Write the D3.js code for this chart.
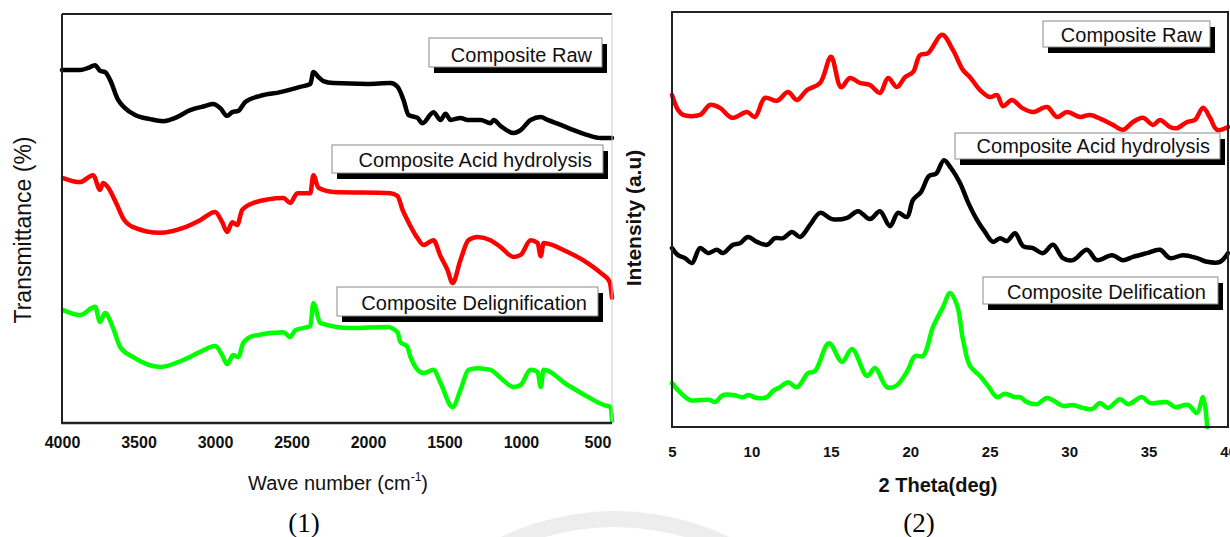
<!DOCTYPE html>
<html>
<head>
<meta charset="utf-8">
<script src="https://cdn.jsdelivr.net/npm/d3@7"></script>
<style>
  body { margin: 0; background: #fff; }
  svg { display: block; }
</style>
</head>
<body>
<svg id="chart"></svg>
<script>
// FTIR spectra, [wave number cm-1, transmittance a.u.]
let ftirRaw = [[4000,86.3],[3882,86.3],[3830,86.8],[3784,87.5],[3751,86.1],[3719,85.8],[3686,83.9],[3633,79.0],[3588,77.0],[3522,75.3],[3424,74.3],[3339,73.8],[3260,74.6],[3162,76.5],[3064,77.5],[3012,78.0],[2966,77.0],[2920,75.1],[2887,76.0],[2848,76.3],[2802,78.5],[2704,80.0],[2573,80.9],[2442,82.2],[2377,82.9],[2357,85.8],[2324,84.6],[2292,83.6],[2226,83.1],[2004,82.9],[1853,83.1],[1807,82.2],[1768,79.0],[1735,75.3],[1676,74.6],[1644,73.3],[1572,76.0],[1526,74.1],[1493,75.6],[1460,74.1],[1395,74.6],[1349,74.1],[1264,74.1],[1199,73.3],[1179,74.1],[1133,72.6],[1048,70.9],[1002,71.6],[937,74.1],[871,74.8],[826,74.1],[740,72.9],[655,71.6],[564,70.4],[479,69.7],[405,69.7]];
let ftirAcid = [[3993,59.9],[3882,58.9],[3797,60.6],[3751,57.0],[3732,58.7],[3705,57.9],[3640,53.3],[3601,50.1],[3535,47.9],[3359,46.5],[3208,47.7],[3097,49.6],[2999,51.6],[2953,49.1],[2920,46.7],[2887,49.1],[2855,48.4],[2822,52.1],[2750,53.8],[2553,55.0],[2508,53.8],[2462,56.2],[2377,56.2],[2357,60.6],[2324,57.5],[2226,56.5],[1853,56.2],[1807,55.5],[1774,52.1],[1742,49.6],[1676,45.2],[1637,43.5],[1572,44.7],[1526,40.8],[1480,37.4],[1447,34.2],[1395,39.9],[1343,44.7],[1284,45.5],[1199,44.7],[1133,43.0],[1048,40.6],[1002,41.1],[937,44.7],[891,44.0],[871,40.8],[852,44.0],[695,41.8],[564,39.1],[479,36.7],[420,34.5],[405,30.6]];
let ftirDelig = [[3993,27.6],[3882,26.4],[3784,28.4],[3751,24.7],[3719,26.9],[3666,23.2],[3620,18.6],[3535,16.1],[3359,13.7],[3208,15.4],[3097,17.4],[2999,18.8],[2953,16.6],[2920,14.4],[2881,16.6],[2848,16.1],[2815,19.6],[2750,21.3],[2553,22.2],[2508,21.0],[2475,22.7],[2377,23.7],[2357,29.3],[2311,24.4],[2115,23.2],[1873,23.5],[1807,22.2],[1788,19.8],[1742,18.6],[1722,16.1],[1637,12.2],[1572,13.0],[1526,9.8],[1447,3.9],[1395,8.1],[1343,13.0],[1284,13.4],[1199,13.0],[1133,11.0],[1048,8.8],[1002,9.3],[937,13.0],[891,12.5],[871,8.8],[852,13.0],[695,9.3],[564,6.4],[459,4.4],[413,3.9],[405,0.5]];

// XRD patterns, [2 theta deg, intensity a.u.]
let xrdRaw = [[5.00,80.0],[5.38,76.4],[5.69,75.2],[6.76,75.2],[7.39,77.6],[8.02,76.9],[8.78,74.5],[9.72,75.9],[10.22,74.7],[10.85,79.3],[11.61,78.6],[12.30,80.7],[12.87,78.8],[13.50,81.2],[14.32,82.9],[15.01,89.2],[15.64,81.9],[16.20,84.1],[16.83,82.9],[17.46,82.4],[18.09,80.5],[18.60,84.1],[19.16,81.9],[19.67,84.3],[20.17,85.5],[20.61,89.6],[21.12,90.1],[22.00,94.5],[22.69,90.8],[23.32,86.0],[23.76,84.3],[24.39,81.2],[25.02,79.5],[25.46,80.0],[25.84,77.3],[26.40,78.8],[27.03,76.9],[27.72,75.9],[28.61,77.1],[29.24,74.7],[29.87,75.9],[30.68,74.7],[31.31,75.2],[32.13,74.0],[32.76,72.8],[33.39,71.6],[34.02,73.5],[34.65,74.5],[35.28,72.8],[35.72,74.0],[36.35,72.3],[36.79,72.0],[37.42,73.5],[37.92,74.0],[38.43,76.9],[38.87,74.5],[39.31,71.6],[40.00,72.3]];
let xrdAcid = [[5.00,43.1],[5.38,41.4],[5.82,40.7],[6.26,39.5],[6.76,43.1],[7.27,41.9],[7.83,42.7],[8.21,41.9],[8.84,43.9],[9.28,44.3],[9.78,45.8],[10.35,44.6],[10.98,43.9],[11.48,45.5],[11.99,45.5],[12.55,47.0],[13.06,45.8],[13.69,48.7],[14.32,51.6],[15.07,50.1],[16.02,50.4],[16.71,52.0],[17.46,50.1],[18.09,52.0],[18.72,48.4],[19.23,51.6],[19.79,50.6],[20.17,54.7],[20.67,56.6],[21.18,60.5],[21.62,61.0],[22.12,64.3],[22.56,62.4],[23.13,58.8],[23.63,54.2],[24.20,49.9],[24.70,47.0],[25.21,44.6],[25.65,45.5],[26.09,44.8],[26.59,46.7],[27.10,43.6],[27.72,43.1],[28.35,41.9],[28.98,43.9],[29.61,40.7],[30.24,40.2],[31.12,42.7],[31.75,40.2],[32.70,41.4],[33.39,40.2],[34.02,41.0],[34.90,41.9],[35.72,42.7],[36.35,40.7],[37.17,41.4],[38.05,40.7],[38.69,39.8],[39.50,39.8],[40.00,41.9]];
let xrdDelif = [[5.00,10.6],[5.50,8.4],[6.13,6.5],[6.76,6.5],[7.39,6.5],[7.71,6.0],[8.21,7.7],[8.84,7.7],[9.47,7.2],[9.78,7.7],[10.35,7.0],[10.98,7.2],[11.36,8.7],[11.80,9.6],[12.30,10.8],[12.87,9.6],[13.56,13.0],[14.00,13.5],[14.88,20.2],[15.70,15.7],[16.33,18.8],[17.28,12.3],[17.78,14.2],[18.53,9.6],[19.10,9.9],[19.79,13.3],[20.30,17.1],[20.80,17.1],[21.43,24.1],[22.06,28.9],[22.50,32.3],[22.94,29.4],[23.32,21.0],[23.76,14.7],[24.39,12.3],[24.89,9.9],[25.46,7.2],[25.96,8.0],[26.59,7.2],[26.91,7.2],[27.35,6.0],[27.98,5.5],[28.61,7.0],[29.61,5.1],[30.24,5.3],[30.87,4.6],[31.44,4.3],[31.94,5.8],[32.45,4.6],[33.20,6.7],[33.71,5.5],[34.59,7.2],[35.09,5.8],[36.16,6.0],[36.66,4.8],[37.48,5.3],[38.05,3.4],[38.43,7.2],[38.69,0.0]];

let ftirTicks = [4000, 3500, 3000, 2500, 2000, 1500, 1000, 500];
let xrdTicks = [5, 10, 15, 20, 25, 30, 35, 40];

let ftirLabels = ["Composite Raw", "Composite Acid hydrolysis", "Composite Delignification"];
let xrdLabels = ["Composite Raw", "Composite Acid hydrolysis", "Composite Delification"];

let sans = "'Liberation Sans', Arial, sans-serif";
let serif = "'Liberation Serif', 'Times New Roman', serif";

let svg = d3.select("#chart")
    .attr("width", 1230)
    .attr("height", 537)

// faint watermark ring at the bottom
svg.append("path")
    .attr("transform", "translate(615,775)")
    .attr("d", d3.arc()({innerRadius: 248, outerRadius: 264, startAngle: -0.62, endAngle: 0.62}))
    .attr("fill", "#ededed")

// ---------- panel 1: FTIR ----------
let ftirX = d3.scaleLinear()
    .domain([4000, 405])
    .range([62, 612])

let ftirY = d3.scaleLinear()
    .domain([0, 100])
    .range([423, 14])

let ftirLine = d3.line()
    .x(function (d) { return ftirX(d[0]) })
    .y(function (d) { return ftirY(d[1]) })
    .curve(d3.curveMonotoneX)

let ftirSeries = [
    {data: ftirRaw, color: "#000000"},
    {data: ftirAcid, color: "#ff0000"},
    {data: ftirDelig, color: "#00ff00"}
]

svg.append("g")
    .selectAll("path")
    .data(ftirSeries)
    .enter()
    .append("path")
    .attr("d", function (d) { return ftirLine(d.data) })
    .attr("fill", "none")
    .attr("stroke", function (d) { return d.color })
    .attr("stroke-width", 4.5)
    .attr("stroke-linejoin", "round")
    .attr("stroke-linecap", "round")

// frame: dark left/top/bottom, light right side
svg.append("line").attr("x1", 62).attr("x2", 612).attr("y1", 14).attr("y2", 14)
    .attr("stroke", "#222").attr("stroke-width", 2)
svg.append("line").attr("x1", 62).attr("x2", 62).attr("y1", 14).attr("y2", 423)
    .attr("stroke", "#222").attr("stroke-width", 2)
svg.append("line").attr("x1", 612).attr("x2", 612).attr("y1", 14).attr("y2", 423)
    .attr("stroke", "#ccc").attr("stroke-width", 1)
svg.append("line").attr("x1", 61).attr("x2", 612).attr("y1", 423).attr("y2", 423)
    .attr("stroke", "#222").attr("stroke-width", 2.5)

svg.append("g")
    .attr("transform", "translate(0,423)")
    .call(d3.axisBottom(ftirX).tickValues(ftirTicks).tickSize(0).tickPadding(14).tickFormat(d3.format("d")))
    .call(function (g) { g.select(".domain").remove() })
    .attr("font-family", sans)
    .attr("font-size", 16)
    .attr("font-weight", "bold")
    .selectAll("text").attr("fill", "#111")

svg.append("text")
    .attr("x", 338)
    .attr("y", 490)
    .attr("text-anchor", "middle")
    .attr("font-family", sans)
    .attr("font-size", 20)
    .attr("fill", "#111")
    .call(function (t) {
        t.append("tspan").text("Wave number (cm")
        t.append("tspan").attr("font-size", 12).attr("dy", -9).text("-1")
        t.append("tspan").attr("dy", 9).text(")")
    })

svg.append("text")
    .attr("transform", "translate(31,230)rotate(-90)")
    .attr("text-anchor", "middle")
    .attr("font-family", sans)
    .attr("font-size", 23)
    .attr("fill", "#111")
    .text("Transmittance (%)")

// ---------- panel 2: XRD ----------
let xrdX = d3.scaleLinear()
    .domain([5, 40])
    .range([672, 1228])

let xrdY = d3.scaleLinear()
    .domain([0, 100])
    .range([427, 12])

let xrdLine = d3.line()
    .x(function (d) { return xrdX(d[0]) })
    .y(function (d) { return xrdY(d[1]) })
    .curve(d3.curveCatmullRom.alpha(0.5))

let xrdSeries = [
    {data: xrdRaw, color: "#ff0000"},
    {data: xrdAcid, color: "#000000"},
    {data: xrdDelif, color: "#00ff00"}
]

svg.append("g")
    .selectAll("path")
    .data(xrdSeries)
    .enter()
    .append("path")
    .attr("d", function (d) { return xrdLine(d.data) })
    .attr("fill", "none")
    .attr("stroke", function (d) { return d.color })
    .attr("stroke-width", 4.5)
    .attr("stroke-linejoin", "round")
    .attr("stroke-linecap", "round")

svg.append("rect")
    .attr("x", 672).attr("y", 12)
    .attr("width", 556).attr("height", 415)
    .attr("fill", "none")
    .attr("stroke", "#222")
    .attr("stroke-width", 2)

svg.append("g")
    .attr("transform", "translate(0,427)")
    .call(d3.axisBottom(xrdX).tickValues(xrdTicks).tickSize(0).tickPadding(19).tickFormat(d3.format("d")))
    .call(function (g) { g.select(".domain").remove() })
    .attr("font-family", sans)
    .attr("font-size", 15)
    .attr("font-weight", "bold")
    .selectAll("text").attr("fill", "#111")

svg.append("text")
    .attr("x", 938)
    .attr("y", 492)
    .attr("text-anchor", "middle")
    .attr("font-family", sans)
    .attr("font-size", 20)
    .attr("font-weight", "bold")
    .attr("fill", "#111")
    .text("2 Theta(deg)")

svg.append("text")
    .attr("transform", "translate(641,218)rotate(-90)")
    .attr("text-anchor", "middle")
    .attr("font-family", sans)
    .attr("font-size", 21)
    .attr("font-weight", "bold")
    .attr("fill", "#111")
    .text("Intensity (a.u)")

// ---------- legend boxes with black drop shadow ----------
let boxes = [
    {label: ftirLabels[0], x: 429, y: 38, w: 173, h: 29, tx: 592, ty: 62},
    {label: ftirLabels[1], x: 332, y: 145, w: 271, h: 28, tx: 592, ty: 167},
    {label: ftirLabels[2], x: 337, y: 287, w: 261, h: 29, tx: 587, ty: 310},
    {label: xrdLabels[0], x: 1043, y: 21, w: 167, h: 26, tx: 1202, ty: 42},
    {label: xrdLabels[1], x: 955, y: 133, w: 265, h: 26, tx: 1210, ty: 153},
    {label: xrdLabels[2], x: 983, y: 277, w: 235, h: 27, tx: 1206, ty: 299}
]

let legend = svg.selectAll(".legend")
    .data(boxes)
    .enter()
    .append("g")
    .attr("class", "legend")

legend.append("rect")
    .attr("x", function (d) { return d.x + 5 })
    .attr("y", function (d) { return d.y + 6 })
    .attr("width", function (d) { return d.w })
    .attr("height", function (d) { return d.h })
    .attr("fill", "#000")

legend.append("rect")
    .attr("x", function (d) { return d.x })
    .attr("y", function (d) { return d.y })
    .attr("width", function (d) { return d.w })
    .attr("height", function (d) { return d.h })
    .attr("fill", "#fff")
    .attr("stroke", "#8a8a8a")
    .attr("stroke-width", 1)

legend.append("text")
    .attr("x", function (d) { return d.tx })
    .attr("y", function (d) { return d.ty })
    .attr("text-anchor", "end")
    .attr("font-family", sans)
    .attr("font-size", 20)
    .attr("fill", "#111")
    .text(function (d) { return d.label })

// panel captions
svg.append("text")
    .attr("x", 304).attr("y", 532)
    .attr("text-anchor", "middle")
    .attr("font-family", serif)
    .attr("font-size", 27)
    .attr("fill", "#000")
    .text("(1)")

svg.append("text")
    .attr("x", 919).attr("y", 532)
    .attr("text-anchor", "middle")
    .attr("font-family", serif)
    .attr("font-size", 27)
    .attr("fill", "#000")
    .text("(2)")
</script>
</body>
</html>
